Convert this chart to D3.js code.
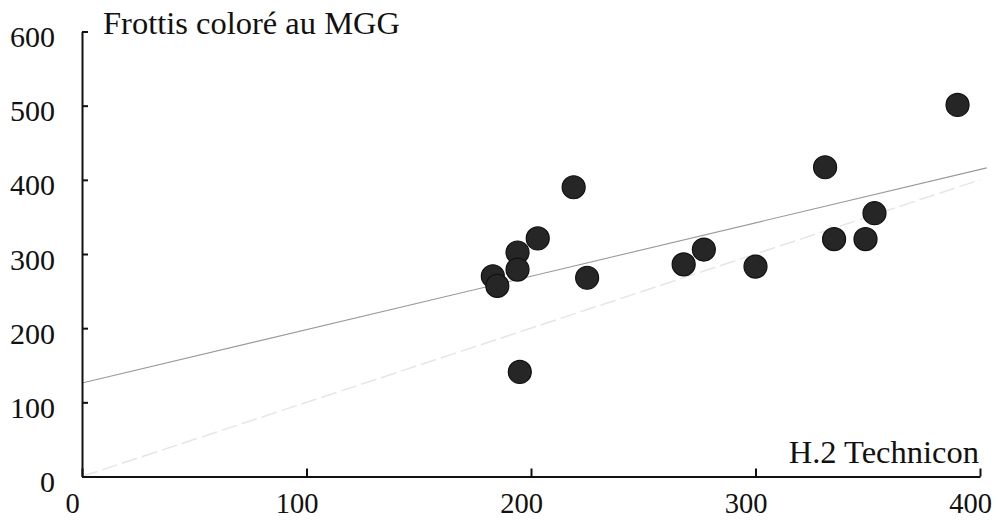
<!DOCTYPE html>
<html>
<head>
<meta charset="utf-8">
<script src="https://cdn.jsdelivr.net/npm/d3@7"></script>
<style>
  body { margin: 0; background: #fff; }
  svg { display: block; }
  text { font-family: "Liberation Serif", "Times New Roman", serif; fill: #111; }
</style>
</head>
<body>
<div id="chart"></div>
<script>
// values
const technicon = [183, 185, 194, 194, 195, 203, 219, 225, 268, 277, 300, 331, 335, 349, 353, 390];
const mgg       = [270, 257, 302, 279, 141, 321, 390, 268, 286, 306, 283, 417, 320, 320, 355, 501];
const xTicks = [0, 100, 200, 300, 400];
const yTicks = [0, 100, 200, 300, 400, 500, 600];
// regression line (solid) and identity line (dashed)
const fitIntercept = 126;
const fitSlope = 0.72;

const width = 999, height = 521;
const margin = {top: 31.5, right: 18, bottom: 44.5, left: 82};

const x = d3.scaleLinear().domain([0, 400]).range([margin.left, margin.left + 898]);
const y = d3.scaleLinear().domain([0, 600]).range([height - margin.bottom, margin.top]);

const svg = d3.select("#chart")
  .append("svg")
  .attr("width", width)
  .attr("height", height);

// identity line, very light and dashed
svg.append("line")
  .attr("x1", x(0)).attr("y1", y(0))
  .attr("x2", x(400)).attr("y2", y(400))
  .style("stroke", "#e6e6e6")
  .style("stroke-width", 1.5)
  .style("stroke-dasharray", "16,5");

// regression line
svg.append("line")
  .attr("x1", x(0)).attr("y1", y(fitIntercept))
  .attr("x2", x(403)).attr("y2", y(fitIntercept + fitSlope * 403))
  .style("stroke", "#9a9a9a")
  .style("stroke-width", 1.1);

// axes
const xAxis = svg.append("g")
  .attr("transform", "translate(0," + y(0) + ")")
  .call(d3.axisBottom(x).tickValues(xTicks).tickSize(-8).tickSizeOuter(0).tickPadding(16));

const yAxis = svg.append("g")
  .attr("transform", "translate(" + x(0) + ",0)")
  .call(d3.axisLeft(y).tickValues(yTicks).tickSize(-6).tickSizeOuter(0).tickPadding(27));

[xAxis, yAxis].forEach(function(a) {
  a.select(".domain").style("stroke", "#111").style("stroke-width", 2);
  a.selectAll(".tick line").style("stroke", "#111").style("stroke-width", 2);
  a.selectAll(".tick text")
    .style("font-family", "'Liberation Serif', 'Times New Roman', serif")
    .style("fill", "#111");
});
xAxis.selectAll(".tick text").style("font-size", "28.5px").attr("dx", -10);
yAxis.selectAll(".tick text").style("font-size", "30px").attr("dy", "0.5em");

// points
svg.append("g")
  .selectAll("circle")
  .data(technicon.map(function(d, i) { return {x: d, y: mgg[i]}; }))
  .enter()
  .append("circle")
  .attr("cx", function(d) { return x(d.x); })
  .attr("cy", function(d) { return y(d.y); })
  .attr("r", 11.5)
  .attr("fill", "#262626")
  .style("stroke", "#111")
  .style("stroke-width", 1.2);

// axis titles
svg.append("text")
  .attr("x", 103)
  .attr("y", 34)
  .style("font-size", "32.5px")
  .text("Frottis coloré au MGG");

svg.append("text")
  .attr("x", 979)
  .attr("y", 463)
  .attr("text-anchor", "end")
  .style("font-size", "32.5px")
  .text("H.2 Technicon");
</script>
</body>
</html>
